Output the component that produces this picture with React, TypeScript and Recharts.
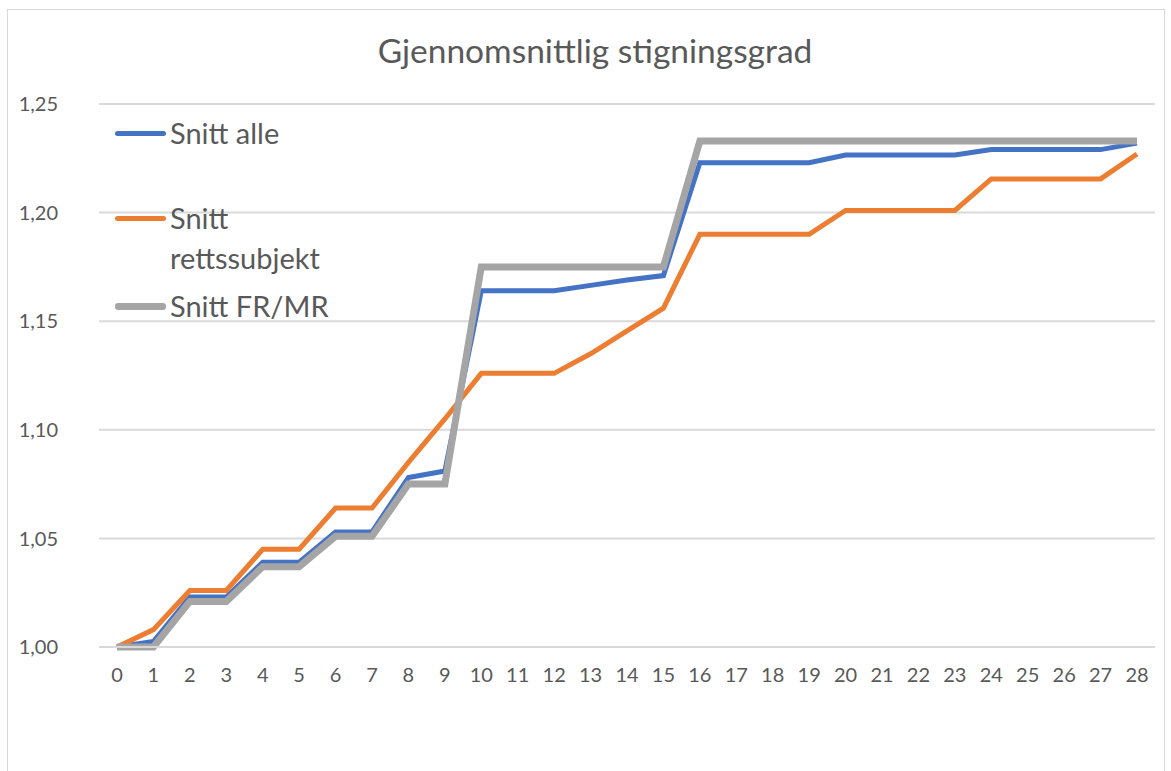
import React from 'react';
import { LineChart, Line, XAxis, YAxis, CartesianGrid } from 'recharts';

const categories: string[] = [
  '0','1','2','3','4','5','6','7','8','9','10','11','12','13','14','15','16','17','18','19','20','21','22','23','24','25','26','27','28',
];
const snittAlle: number[] = [
  1.0, 1.0025, 1.023, 1.023, 1.039, 1.039, 1.053, 1.053, 1.078, 1.081, 1.164, 1.164, 1.164, 1.1665, 1.169, 1.171,
  1.223, 1.223, 1.223, 1.223, 1.2265, 1.2265, 1.2265, 1.2265, 1.229, 1.229, 1.229, 1.229, 1.232,
];
const snittRettssubjekt: number[] = [
  1.0, 1.008, 1.026, 1.026, 1.045, 1.045, 1.064, 1.064, 1.085, 1.105, 1.126, 1.126, 1.126, 1.135, 1.1455, 1.156,
  1.19, 1.19, 1.19, 1.19, 1.201, 1.201, 1.201, 1.201, 1.2155, 1.2155, 1.2155, 1.2155, 1.227,
];
const snittFRMR: number[] = [
  1.0, 1.0, 1.021, 1.021, 1.037, 1.037, 1.051, 1.051, 1.075, 1.075, 1.175, 1.175, 1.175, 1.175, 1.175, 1.175,
  1.233, 1.233, 1.233, 1.233, 1.233, 1.233, 1.233, 1.233, 1.233, 1.233, 1.233, 1.233, 1.233,
];
const yTicks: number[] = [1.0, 1.05, 1.1, 1.15, 1.2, 1.25];

const seriesNames = ['Snitt alle', 'Snitt rettssubjekt', 'Snitt FR/MR'];
const colors = ['#4472C4', '#ED7D31', '#A5A5A5'];
const widths = [5, 5, 7];

const data = categories.map((c, i) => ({
  x: c,
  a: snittAlle[i],
  b: snittRettssubjekt[i],
  c: snittFRMR[i],
}));

const FONT = 'Lato, "Open Sans", sans-serif';

const ManualLegend = () => {
  const gaps = [0, 45, 8];
  return (
    <div
      style={{
        position: 'absolute',
        left: 115,
        top: 113,
        fontFamily: FONT,
        fontSize: 29,
        color: '#595959',
        lineHeight: '40px',
      }}
    >
      {seriesNames.map((name, i) => (
        <div key={i} style={{ display: 'flex', alignItems: 'flex-start', marginTop: gaps[i] }}>
          <div style={{ width: 51, height: 40, position: 'relative', marginRight: 4, flex: 'none' }}>
            <div
              style={{
                position: 'absolute',
                left: 0,
                right: 0,
                top: 20 - widths[i] / 2,
                height: widths[i],
                borderRadius: 3,
                background: colors[i],
              }}
            />
          </div>
          <div style={{ width: 170 }}>{name}</div>
        </div>
      ))}
    </div>
  );
};

export default function App() {
  return (
    <div style={{ position: 'absolute', left: 0, top: 0, width: 1171, height: 771, background: '#fff', overflow: 'hidden' }}>
      <div
        style={{
          position: 'absolute',
          left: 7,
          top: 9,
          width: 1158,
          height: 800,
          border: '1px solid #d9d9d9',
          boxSizing: 'border-box',
        }}
      />
      <div
        style={{
          position: 'absolute',
          left: 0,
          width: 1190,
          top: 30,
          textAlign: 'center',
          fontFamily: FONT,
          fontSize: 33.5,
          color: '#595959',
        }}
      >
        Gjennomsnittlig stigningsgrad
      </div>
      <div style={{ position: 'absolute', left: 0, top: 0 }}>
        <LineChart width={1171} height={771} data={data} margin={{ top: 104, right: 16, bottom: 0, left: 0 }}>
          <CartesianGrid vertical={false} stroke="#d9d9d9" strokeWidth={2} />
          <XAxis
            dataKey="x"
            interval={0}
            padding={{ left: 18, right: 18 }}
            tickLine={false}
            axisLine={{ stroke: '#d9d9d9', strokeWidth: 2 }}
            height={124}
            tickSize={0}
            tickMargin={21}
            tick={{ fontFamily: FONT, fontSize: 20, fill: '#595959' }}
          />
          <YAxis
            width={99}
            domain={[1.0, 1.25]}
            ticks={yTicks}
            tickLine={false}
            axisLine={false}
            tickSize={0}
            tickMargin={41}
            tickFormatter={(v: number) => v.toFixed(2).replace('.', ',')}
            tick={{ fontFamily: FONT, fontSize: 20, fill: '#595959' }}
          />
          <Line type="linear" dataKey="a" name={seriesNames[0]} stroke={colors[0]} strokeWidth={widths[0]} dot={false} isAnimationActive={false} />
          <Line type="linear" dataKey="b" name={seriesNames[1]} stroke={colors[1]} strokeWidth={widths[1]} dot={false} isAnimationActive={false} />
          <Line type="linear" dataKey="c" name={seriesNames[2]} stroke={colors[2]} strokeWidth={widths[2]} dot={false} isAnimationActive={false} />
        </LineChart>
      </div>
      <ManualLegend />
    </div>
  );
}
